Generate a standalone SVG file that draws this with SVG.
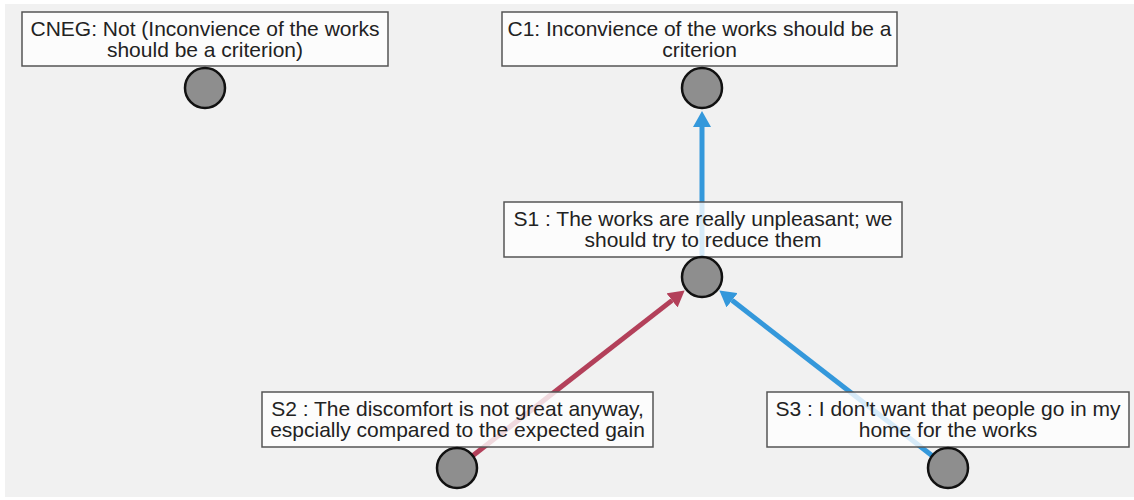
<svg xmlns="http://www.w3.org/2000/svg" width="1134" height="500" viewBox="0 0 1134 500">
<style>
.bg{fill:#f1f1f1}
.box{fill:#ffffff;fill-opacity:0.8;stroke:#555555;stroke-width:1.5}
.dot{fill:#8e8e8e;stroke:#111111;stroke-width:2.5}
.t{font-family:"Liberation Sans",Arial,sans-serif;font-size:21px;fill:#222222;text-anchor:middle}
.sup{stroke:#3498db;stroke-width:5;fill:none}
.att{stroke:#b3405a;stroke-width:5;fill:none}
</style>
<defs>
<marker id="ab" markerUnits="userSpaceOnUse" markerWidth="16" markerHeight="18" refX="0" refY="9" orient="auto" viewBox="0 0 16 18">
<path d="M0,0 L16,9 L0,18 z" fill="#3498db"/>
</marker>
<marker id="ar" markerUnits="userSpaceOnUse" markerWidth="16" markerHeight="18" refX="0" refY="9" orient="auto" viewBox="0 0 16 18">
<path d="M0,0 L16,9 L0,18 z" fill="#b3405a"/>
</marker>
</defs>
<rect x="0" y="0" width="1134" height="500" fill="#ffffff"/>
<rect class="bg" x="5" y="4" width="1129" height="493"/>
<g id="connectors">
<line class="sup" x1="702" y1="277" x2="702" y2="127" marker-end="url(#ab)"/>
<line class="att" x1="457" y1="468" x2="672.03" y2="300.37" marker-end="url(#ar)"/>
<line class="sup" x1="948" y1="468" x2="732.02" y2="300.30" marker-end="url(#ab)"/>
</g>
<g id="CNEG">
<rect class="box" x="22" y="12" width="366" height="54"/>
<text class="t" x="205" y="36">CNEG: Not (Inconvience of the works</text>
<text class="t" x="205" y="57">should be a criterion)</text>
<circle class="dot" cx="205" cy="88" r="20"/>
</g>
<g id="C1">
<rect class="box" x="502" y="12" width="395" height="54"/>
<text class="t" x="699.5" y="36">C1: Inconvience of the works should be a</text>
<text class="t" x="699.5" y="57">criterion</text>
<circle class="dot" cx="702" cy="88" r="20"/>
</g>
<g id="S1">
<rect class="box" x="504" y="202" width="398" height="55"/>
<text class="t" x="703" y="226">S1 : The works are really unpleasant; we</text>
<text class="t" x="703" y="247">should try to reduce them</text>
<circle class="dot" cx="702" cy="277" r="20"/>
</g>
<g id="S2">
<rect class="box" x="262" y="392" width="391" height="55"/>
<text class="t" x="457.5" y="416">S2 : The discomfort is not great anyway,</text>
<text class="t" x="457.5" y="437">espcially compared to the expected gain</text>
<circle class="dot" cx="457" cy="468" r="20"/>
</g>
<g id="S3">
<rect class="box" x="767" y="392" width="362" height="55"/>
<text class="t" x="948" y="416">S3 : I don't want that people go in my</text>
<text class="t" x="948" y="437">home for the works</text>
<circle class="dot" cx="948" cy="468" r="20"/>
</g>
</svg>
